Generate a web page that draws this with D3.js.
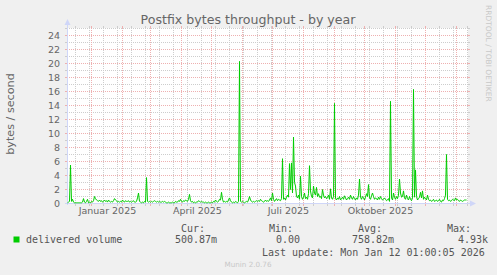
<!DOCTYPE html>
<html>
<head>
<meta charset="utf-8">
<script src="https://cdn.jsdelivr.net/npm/d3@7"></script>
<style>
  html, body { margin: 0; padding: 0; background: #f0f0f0; }
  svg { display: block; }
</style>
</head>
<body>
<script>
// daily averages (bytes / second), one per day over the 400 day window
const delivered = [
  0.1, 0.2, 0.3, 5.5, 0.3, 0.6, 0.2, 0.1, 0.1, 0.1,
  0.1, 0.1, 0.1, 0.1, 0.1, 0.2, 0.7, 0.2, 0.1, 0.3,
  0.6, 0.1, 0.2, 0.1, 0.3, 0.2, 0.4, 1.0, 0.7, 0.5,
  0.4, 0.3, 0.5, 0.3, 0.4, 0.2, 0.3, 0.5, 0.3, 0.4,
  0.2, 0.5, 0.3, 0.2, 0.3, 0.2, 0.4, 0.7, 0.5, 0.4,
  0.2, 0.3, 0.2, 0.3, 0.2, 0.5, 0.3, 0.2, 0.4, 0.3,
  0.3, 0.4, 0.2, 0.3, 0.2, 0.3, 0.4, 0.2, 0.2, 0.3,
  0.8, 1.5, 0.3, 0.2, 0.1, 0.2, 0.1, 0.3, 0.2, 3.7,
  0.3, 0.2, 0.3, 0.2, 0.3, 0.2, 0.3, 0.4, 0.3, 0.2,
  0.3, 0.2, 0.3, 0.2, 0.2, 0.3, 0.2, 0.3, 0.2, 0.1,
  0.1, 0.2, 0.1, 0.1, 0.1, 0.2, 0.1, 0.1, 0.3, 0.2,
  0.2, 0.4, 0.3, 0.6, 0.3, 0.2, 0.4, 0.3, 0.5, 0.4,
  0.3, 0.6, 1.3, 0.4, 0.2, 0.3, 0.1, 0.2, 0.1, 0.2,
  0.2, 0.4, 0.3, 0.2, 0.3, 0.2, 0.2, 0.1, 0.2, 0.1,
  0.1, 0.2, 0.1, 0.1, 0.2, 0.1, 0.3, 0.2, 0.5, 0.3,
  0.2, 0.3, 0.6, 0.5, 1.6, 0.6, 0.2, 0.3, 0.2, 0.3,
  0.2, 0.5, 0.8, 0.4, 0.2, 0.1, 0.2, 0.1, 0.3, 0.2,
  0.1, 0.3, 20.3, 0.3, 0.2, 0.3, 0.2, 0.1, 0.2, 0.3,
  0.2, 0.5, 1.0, 0.5, 0.3, 0.2, 0.3, 0.2, 0.3, 0.4,
  0.3, 0.4, 0.3, 0.6, 0.4, 0.3, 0.2, 0.3, 0.5, 0.3,
  0.4, 0.3, 0.5, 0.8, 0.4, 1.5, 0.6, 0.3, 0.5, 0.7,
  0.4, 0.6, 0.5, 0.4, 0.7, 6.4, 0.6, 0.8, 0.5, 0.9,
  1.2, 0.9, 5.7, 2.0, 5.8, 1.5, 9.5, 3.0, 2.5, 1.0,
  0.8, 1.2, 0.6, 3.9, 1.0, 0.6, 0.9, 1.5, 0.7, 0.9,
  0.6, 1.4, 5.4, 1.8, 1.0, 0.8, 2.5, 1.5, 1.2, 2.3,
  1.0, 1.4, 0.9, 1.0, 0.7, 2.0, 1.2, 0.8, 1.0, 0.7,
  0.9, 1.2, 0.6, 2.1, 0.8, 0.6, 1.0, 14.3, 0.7, 0.5,
  0.8, 0.6, 1.0, 0.5, 0.7, 0.9, 0.6, 1.1, 0.8, 0.5,
  0.7, 0.9, 0.6, 1.2, 0.8, 0.6, 1.0, 0.7, 0.5, 0.8,
  0.6, 1.2, 3.5, 0.9, 0.6, 1.0, 0.8, 0.5, 0.9, 1.4,
  1.0, 2.7, 0.8, 0.6, 1.1, 1.5, 1.0, 0.6, 0.8, 0.7,
  0.5, 0.9, 0.6, 1.0, 0.7, 0.5, 0.6, 0.8, 0.6, 0.4,
  0.5, 0.7, 0.3, 14.6, 0.8, 0.5, 1.5, 0.9, 0.6, 1.0,
  0.7, 1.2, 3.5, 1.5, 0.9, 1.0, 1.8, 0.8, 0.6, 1.2,
  0.7, 0.5, 1.0, 0.6, 0.4, 0.8, 16.3, 0.9, 4.8, 1.0,
  0.5, 0.7, 0.9, 1.6, 0.8, 1.8, 0.6, 0.9, 0.7, 0.5,
  1.2, 0.6, 0.4, 0.5, 0.3, 0.4, 0.6, 0.3, 0.4, 0.5,
  0.3, 0.4, 0.6, 0.3, 0.2, 0.5, 0.4, 0.7, 1.2, 7.0,
  0.6, 0.4, 0.5, 0.3, 0.4, 0.6, 0.5, 0.4, 0.8, 0.5,
  0.6, 0.4, 0.3, 0.5, 0.4, 0.3, 0.4, 0.5, 0.5, 0.5
];

const yTicks = [0, 2, 4, 6, 8, 10, 12, 14, 16, 18, 20, 22, 24];
const monthLabels = ["Januar 2025", "April 2025", "Juli 2025", "Oktober 2025"];
const labelMonths = [new Date(2025, 0, 1), new Date(2025, 3, 1), new Date(2025, 6, 1), new Date(2025, 9, 1)];

const legendHeaders = ["Cur:", "Min:", "Avg:", "Max:"];
const legendValues = ["500.87m", "0.00", "758.82m", "4.93k"];

const endTime = new Date(2026, 0, 12, 1, 0, 5);
const startTime = d3.timeDay.offset(endTime, -400);

const width = 497;
const height = 275;
const plot = { left: 67, right: 467, top: 28, bottom: 203 };

const svg = d3.select("body").append("svg")
  .attr("width", width)
  .attr("height", height);

svg.append("rect").attr("width", width).attr("height", height).attr("fill", "#f0f0f0");

const x = d3.scaleTime()
  .domain([startTime, endTime])
  .range([plot.left + 0.5, plot.right + 0.5]);

const y = d3.scaleLinear()
  .domain([0, 25])
  .range([plot.bottom + 0.5, plot.top + 0.5]);

// canvas
svg.append("rect")
  .attr("x", plot.left)
  .attr("y", plot.top)
  .attr("width", plot.right - plot.left + 1)
  .attr("height", plot.bottom - plot.top)
  .attr("fill", "#ffffff");

const minorColor = "#cdcdcd";
const majorColor = "#eeb0b0";

const grid = svg.append("g").attr("shape-rendering", "crispEdges");

// horizontal grid, every unit; labelled ones every 2
d3.range(0, 26).forEach((v) => {
  const c = v % 2 === 0 ? majorColor : minorColor;
  grid.append("line")
    .attr("x1", plot.left).attr("x2", plot.right + 1)
    .attr("y1", y(v)).attr("y2", y(v))
    .attr("stroke", c).attr("stroke-dasharray", "1,1");
  grid.append("line")
    .attr("x1", plot.left - 2).attr("x2", plot.left)
    .attr("y1", y(v)).attr("y2", y(v)).attr("stroke", c);
  grid.append("line")
    .attr("x1", plot.right + 1).attr("x2", plot.right + 3)
    .attr("y1", y(v)).attr("y2", y(v)).attr("stroke", c);
});

// vertical grid: every other monday (minor), month starts (major)
const mondays = d3.timeMonday.range(startTime, endTime).filter((d, i) => i % 2 === 1);
const months = d3.timeMonth.range(startTime, endTime);

function vline(d, c) {
  const px = Math.round(x(d) - 0.5) + 0.5;
  grid.append("line")
    .attr("x1", px).attr("x2", px)
    .attr("y1", plot.top).attr("y2", plot.bottom)
    .attr("stroke", c).attr("stroke-dasharray", "1,1");
  grid.append("line")
    .attr("x1", px).attr("x2", px)
    .attr("y1", plot.bottom).attr("y2", plot.bottom + 3).attr("stroke", c);
  grid.append("line")
    .attr("x1", px).attr("x2", px)
    .attr("y1", plot.top - 2).attr("y2", plot.top).attr("stroke", c);
}
mondays.forEach((d) => vline(d, minorColor));
months.forEach((d) => vline(d, majorColor));

// axes
const axisColor = "#cfd6f8";
svg.append("line")
  .attr("x1", plot.left + 0.5).attr("x2", plot.left + 0.5)
  .attr("y1", plot.bottom + 2).attr("y2", 24)
  .attr("stroke", axisColor);
svg.append("path")
  .attr("d", `M${plot.left - 2.5},25 L${plot.left + 3.5},25 L${plot.left + 0.5},19 Z`)
  .attr("fill", axisColor);
svg.append("line")
  .attr("x1", plot.left - 2).attr("x2", 471)
  .attr("y1", plot.bottom + 0.5).attr("y2", plot.bottom + 0.5)
  .attr("stroke", axisColor);
svg.append("path")
  .attr("d", `M470,${plot.bottom - 2.5} L470,${plot.bottom + 3.5} L476,${plot.bottom + 0.5} Z`)
  .attr("fill", axisColor);

// data line
const series = delivered.map((v, i) => ({ date: d3.timeDay.offset(startTime, i), value: v }));
svg.append("path")
  .datum(series)
  .attr("fill", "none")
  .attr("stroke", "#00cc00")
  .attr("stroke-width", 1)
  .attr("d", d3.line().x((d) => x(d.date)).y((d) => y(d.value)));

// y tick labels
const yAxis = d3.axisLeft(y).tickValues(yTicks).tickSize(0).tickPadding(0);
const gy = svg.append("g")
  .attr("transform", "translate(60,0)")
  .call(yAxis);
gy.select(".domain").remove();
gy.selectAll("text")
  .attr("font-family", "DejaVu Sans")
  .attr("font-size", "9.5px")
  .attr("fill", "#666")
  .attr("dy", "0.36em");

// x labels, centred in the middle of the month
svg.append("g").selectAll("text")
  .data(labelMonths)
  .join("text")
  .attr("x", (d) => x(d3.timeDay.offset(d, 16)))
  .attr("y", 214)
  .attr("text-anchor", "middle")
  .attr("font-family", "DejaVu Sans")
  .attr("font-size", "9.5px")
  .attr("fill", "#666")
  .text((d, i) => monthLabels[i]);

// title
svg.append("text")
  .attr("x", 248).attr("y", 23.5)
  .attr("text-anchor", "middle")
  .attr("font-family", "DejaVu Sans")
  .attr("font-size", "12.6px")
  .attr("fill", "#666")
  .text("Postfix bytes throughput - by year");

// vertical unit label
svg.append("text")
  .attr("transform", "translate(13.5,114) rotate(-90)")
  .attr("text-anchor", "middle")
  .attr("font-family", "DejaVu Sans")
  .attr("font-size", "11.2px")
  .attr("fill", "#666")
  .text("bytes / second");

// watermark on the right edge
svg.append("text")
  .attr("transform", "translate(486,5) rotate(90)")
  .attr("font-family", "DejaVu Sans")
  .attr("font-size", "7.5px")
  .attr("fill", "#c8c8c8")
  .text("RRDTOOL / TOBI OETIKER");

// legend
const mono = "DejaVu Sans Mono";
svg.append("rect")
  .attr("x", 13.5).attr("y", 236.5)
  .attr("width", 6).attr("height", 6)
  .attr("fill", "#00cc00");

svg.append("text")
  .attr("x", 26).attr("y", 243)
  .attr("font-family", mono).attr("font-size", "10px").attr("fill", "#555")
  .text("delivered volume");

const headerX = [181, 269, 358, 447];
const valueX = [175, 276, 352, 458];
svg.append("g").selectAll("text")
  .data(legendHeaders)
  .join("text")
  .attr("x", (d, i) => headerX[i]).attr("y", 231.5)
  .attr("font-family", mono).attr("font-size", "10px").attr("fill", "#555")
  .text((d) => d);
svg.append("g").selectAll("text")
  .data(legendValues)
  .join("text")
  .attr("x", (d, i) => valueX[i]).attr("y", 243)
  .attr("font-family", mono).attr("font-size", "10px").attr("fill", "#555")
  .text((d) => d);

svg.append("text")
  .attr("x", 262).attr("y", 255.5)
  .attr("font-family", mono).attr("font-size", "10px").attr("fill", "#555")
  .text("Last update: Mon Jan 12 01:00:05 2026");

svg.append("text")
  .attr("x", 248).attr("y", 267)
  .attr("text-anchor", "middle")
  .attr("font-family", "DejaVu Sans")
  .attr("font-size", "7.2px")
  .attr("fill", "#c8c8c8")
  .text("Munin 2.0.76");
</script>
</body>
</html>
